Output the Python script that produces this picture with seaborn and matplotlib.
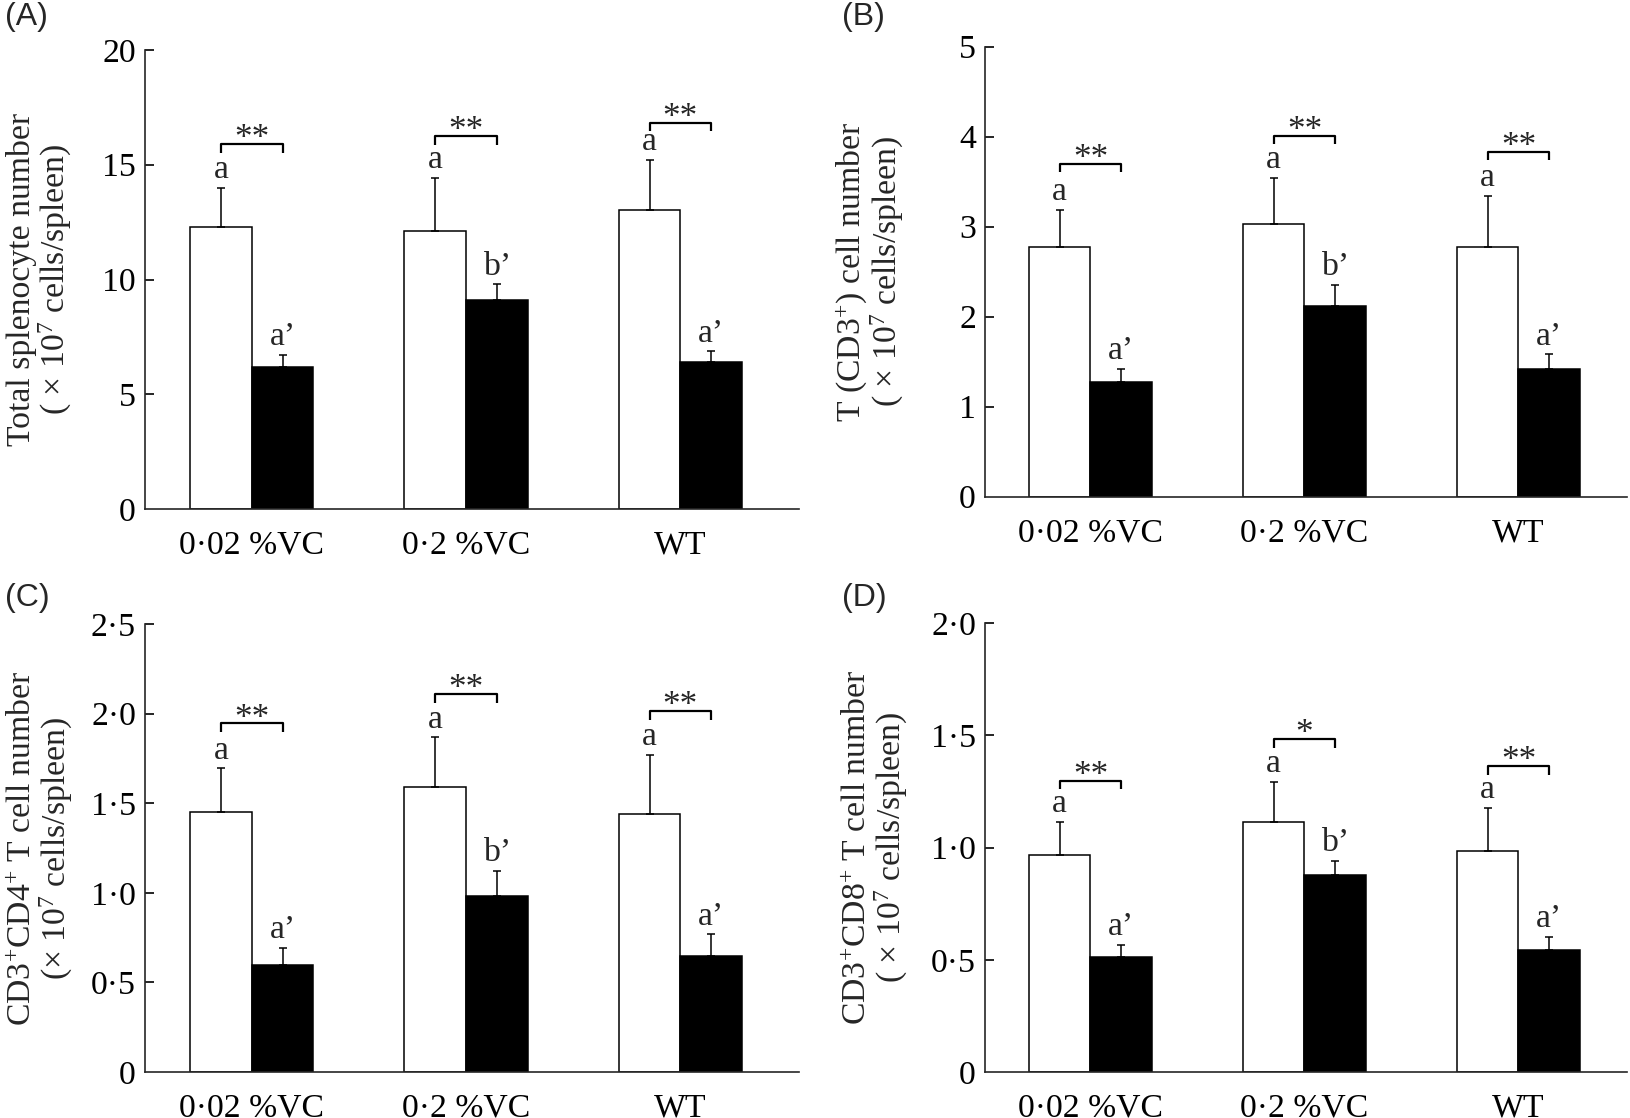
import numpy as np
import pandas as pd
import matplotlib
matplotlib.use("Agg")
import matplotlib.pyplot as plt
import seaborn as sns

# groups on the x axis and the two conditions (open / filled bars)
groups = ["0·02 %VC", "0·2 %VC", "WT"]
conds = ["open", "filled"]

# (A) total splenocytes
a_white = [12.28, 12.12, 13.01]
a_white_sd = [1.71, 2.30, 2.20]
a_black = [6.17, 9.09, 6.40]
a_black_sd = [0.54, 0.70, 0.47]
a_bracket = [15.91, 16.24, 16.83]
a_stars = ["**", "**", "**"]

# (B) T (CD3+) cells
b_white = [2.77, 3.03, 2.77]
b_white_sd = [0.42, 0.51, 0.57]
b_black = [1.28, 2.12, 1.42]
b_black_sd = [0.14, 0.23, 0.16]
b_bracket = [3.70, 4.01, 3.83]
b_stars = ["**", "**", "**"]

# (C) CD3+CD4+ cells
c_white = [1.45, 1.59, 1.44]
c_white_sd = [0.245, 0.278, 0.332]
c_black = [0.597, 0.984, 0.646]
c_black_sd = [0.096, 0.137, 0.122]
c_bracket = [1.946, 2.109, 2.014]
c_stars = ["**", "**", "**"]

# (D) CD3+CD8+ cells
d_white = [0.965, 1.114, 0.983]
d_white_sd = [0.149, 0.180, 0.194]
d_black = [0.513, 0.877, 0.543]
d_black_sd = [0.054, 0.065, 0.060]
d_bracket = [1.297, 1.483, 1.363]
d_stars = ["**", "*", "**"]

white_letters = ["a", "a", "a"]
black_letters = ["a’", "b’", "a’"]

a_ticks = [0, 5, 10, 15, 20]
a_ticklabels = ["0", "5", "10", "15", "20"]
b_ticks = [0, 1, 2, 3, 4, 5]
b_ticklabels = ["0", "1", "2", "3", "4", "5"]
c_ticks = [0, 0.5, 1.0, 1.5, 2.0, 2.5]
c_ticklabels = ["0", "0·5", "1·0", "1·5", "2·0", "2·5"]
d_ticks = [0, 0.5, 1.0, 1.5, 2.0]
d_ticklabels = ["0", "0·5", "1·0", "1·5", "2·0"]

a_ylabel = "Total splenocyte number\n( × 10$^{7}$ cells/spleen)"
b_ylabel = "T (CD3$^{+}$) cell number\n( × 10$^{7}$ cells/spleen)"
c_ylabel = "CD3$^{+}$CD4$^{+}$ T cell number\n(× 10$^{7}$ cells/spleen)"
d_ylabel = "CD3$^{+}$CD8$^{+}$ T cell number\n( × 10$^{7}$ cells/spleen)"

sns.set_theme(style="ticks")
plt.rcParams["font.family"] = ["Liberation Serif", "DejaVu Serif"]
plt.rcParams["mathtext.fontset"] = "custom"
plt.rcParams["mathtext.rm"] = "Liberation Serif"
plt.rcParams["mathtext.it"] = "Liberation Serif:italic"
plt.rcParams["mathtext.bf"] = "Liberation Serif:bold"
plt.rcParams["axes.linewidth"] = 1.2

FS = 24.3

fig = plt.figure(figsize=(16.31, 11.18), dpi=100)


def draw_panel(rect, white, white_sd, black, black_sd, bracket, stars,
               ticks, ticklabels, ylabel, xlim, label_x):
    ax = fig.add_axes(rect)
    df = pd.DataFrame({
        "group": groups * 2,
        "cond": [conds[0]] * 3 + [conds[1]] * 3,
        "value": white + black,
    })
    sns.barplot(data=df, x="group", y="value", hue="cond", order=groups,
                hue_order=conds, palette=["white", "black"], saturation=1,
                edgecolor="black", linewidth=1.1, width=0.575,
                errorbar=None, legend=False, ax=ax)

    bars = sorted(ax.patches, key=lambda p: p.get_x())
    xw = [p.get_x() + p.get_width() / 2 for p in bars[0::2]]
    xb = [p.get_x() + p.get_width() / 2 for p in bars[1::2]]

    # one-sided error bars
    ax.errorbar(xw, white, yerr=[np.zeros(3), white_sd], fmt="none",
                ecolor="black", elinewidth=1.1, capsize=3, capthick=1.1)
    ax.errorbar(xb, black, yerr=[np.zeros(3), black_sd], fmt="none",
                ecolor="black", elinewidth=1.1, capsize=3, capthick=1.1)

    ymax = ticks[-1]
    drop = 0.019 * ymax
    for i in range(3):
        ax.annotate(white_letters[i], (xw[i], white[i] + white_sd[i]),
                    xytext=(0, 7), textcoords="offset points",
                    ha="center", va="baseline", fontsize=FS)
        ax.annotate(black_letters[i], (xb[i], black[i] + black_sd[i]),
                    xytext=(0, 7), textcoords="offset points",
                    ha="center", va="baseline", fontsize=FS)
        ax.plot([xw[i], xw[i], xb[i], xb[i]],
                [bracket[i] - drop, bracket[i], bracket[i], bracket[i] - drop],
                color="black", lw=1.6, solid_capstyle="butt")
        ax.annotate(stars[i], ((xw[i] + xb[i]) / 2, bracket[i]),
                    xytext=(0, -3), textcoords="offset points",
                    ha="center", va="baseline", fontsize=FS + 1)

    ax.set_xlim(*xlim)
    ax.set_ylim(0, ymax)
    ax.set_yticks(ticks)
    ax.set_yticklabels(ticklabels)
    ax.yaxis.get_major_ticks()[0].tick1line.set_visible(False)
    ax.tick_params(axis="y", direction="in", length=6.5, width=1.2,
                   pad=6.5, labelsize=FS, colors="black")
    ax.tick_params(axis="x", length=0, pad=15, labelsize=FS, colors="black")
    ax.set_xlabel("")
    ax.set_ylabel(ylabel, fontsize=FS, va="center", linespacing=1.0)
    ax.yaxis.set_label_coords(label_x, 0.5)
    sns.despine(ax=ax)
    return ax


left_lim = (-0.498, 2.554)
right_lim = (-0.493, 2.507)

draw_panel([0.0889, 0.5447, 0.401, 0.4106], a_white, a_white_sd, a_black,
           a_black_sd, a_bracket, a_stars, a_ticks, a_ticklabels, a_ylabel,
           left_lim, -0.160)
draw_panel([0.6039, 0.5557, 0.3936, 0.4026], b_white, b_white_sd, b_black,
           b_black_sd, b_bracket, b_stars, b_ticks, b_ticklabels, b_ylabel,
           right_lim, -0.179)
draw_panel([0.0889, 0.0411, 0.401, 0.4007], c_white, c_white_sd, c_black,
           c_black_sd, c_bracket, c_stars, c_ticks, c_ticklabels, c_ylabel,
           left_lim, -0.158)
draw_panel([0.6039, 0.0411, 0.3936, 0.4016], d_white, d_white_sd, d_black,
           d_black_sd, d_bracket, d_stars, d_ticks, d_ticklabels, d_ylabel,
           right_lim, -0.169)

# panel letters
for x, y, lab in [(0.003, 0.998, "(A)"), (0.516, 0.998, "(B)"),
                  (0.003, 0.4785, "(C)"), (0.516, 0.4785, "(D)")]:
    fig.text(x, y, lab, ha="left", va="top", fontsize=23,
             family=["Liberation Sans", "DejaVu Sans"])

fig.savefig("out.png", dpi=100)
